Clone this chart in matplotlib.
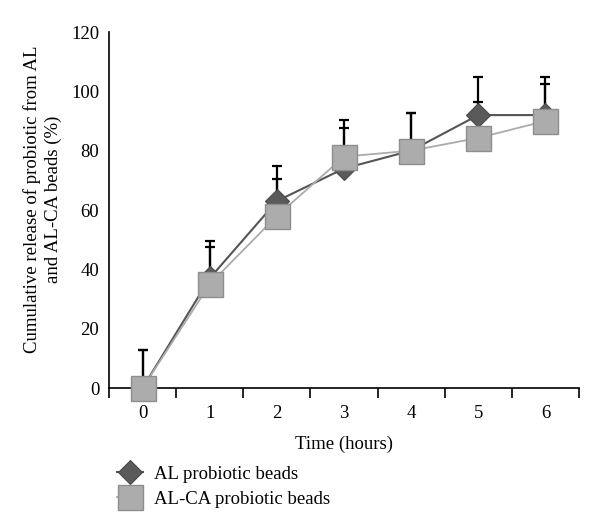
import numpy as np
import matplotlib
matplotlib.use("Agg")
import matplotlib.pyplot as plt

plt.rcParams["font.family"] = ["Liberation Serif", "DejaVu Serif"]

hours = [0, 1, 2, 3, 4, 5, 6]
al = [0, 37, 63, 74, 80, 92, 92]
al_err = [12.8, 12.6, 11.8, 13.7, 12.6, 12.9, 12.9]
alca = [0, 35, 58, 78, 80, 84.3, 90]
alca_err = [12.8, 12.4, 12.4, 12.3, 12.6, 12.0, 12.5]

fig = plt.figure(figsize=(6, 5.31), dpi=100)
ax = fig.add_axes([0.1817, 0.2693, 0.7833, 0.6704])

x = np.array(hours)

# upward error bars only, drawn under the markers
ax.errorbar(x, al, yerr=[np.zeros(len(al)), al_err], fmt="none", ecolor="black",
            elinewidth=1.6, capsize=3.5, capthick=1.6, zorder=2, clip_on=False)
ax.errorbar(x, alca, yerr=[np.zeros(len(alca)), alca_err], fmt="none", ecolor="black",
            elinewidth=1.6, capsize=3.5, capthick=1.6, zorder=2, clip_on=False)

ax.plot(x, al, color="#555555", lw=1.5, marker="D", ms=12.5, mfc="#5a5a5a",
        mec="#4a4a4a", mew=0.8, label="AL probiotic beads", zorder=3, clip_on=False)
ax.plot(x, alca, color="#ababab", lw=1.3, marker="s", ms=18, mfc="#acacac",
        mec="#8e8e8e", mew=1.0, label="AL-CA probiotic beads", zorder=4, clip_on=False)

ax.set_xlim(-0.5, 6.5)
ax.set_ylim(0, 120)
ax.set_yticks(range(0, 121, 20))
ax.tick_params(axis="y", length=0, pad=7, labelsize=13.5)

# category axis: tick marks between categories, labels at the centres
ax.set_xticks(np.arange(-0.5, 7, 1))
ax.set_xticklabels([])
ax.set_xticks(x, minor=True)
ax.set_xticklabels([str(h) for h in hours], minor=True)
ax.tick_params(axis="x", which="major", direction="out", length=7, width=1.2)
ax.tick_params(axis="x", which="minor", length=0, pad=12, labelsize=13.5)

for s in ["top", "right"]:
    ax.spines[s].set_visible(False)
for s in ["left", "bottom"]:
    ax.spines[s].set_linewidth(1.2)

ax.set_xlabel("Time (hours)", fontsize=13.5)
ax.xaxis.set_label_coords(0.5, -0.135)
ax.set_ylabel("Cumulative release of probiotic from AL\nand AL-CA beads (%)",
              fontsize=13.5, linespacing=1.3)
ax.yaxis.set_label_coords(-0.1, 0.53)

fig.legend(loc="upper left", bbox_to_anchor=(0.182, 0.137), frameon=False,
           fontsize=13.5, handlelength=1.4, handletextpad=0.6, labelspacing=0.42,
           numpoints=1, borderaxespad=0)

plt.savefig("out.png", dpi=100)
